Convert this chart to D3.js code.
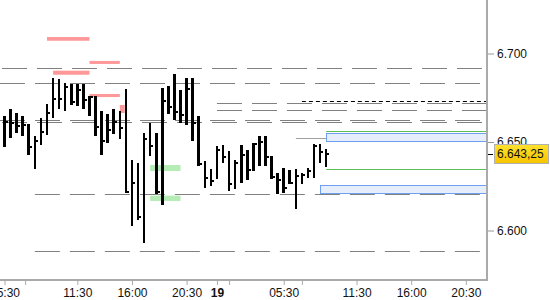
<!DOCTYPE html>
<html>
<head>
<meta charset="utf-8">
<script src="https://cdn.jsdelivr.net/npm/d3@7"></script>
<style>
  body { margin: 0; background: #fff; }
  svg { display: block; font-family: "Liberation Sans", Arial, sans-serif; font-size: 12px; }
</style>
</head>
<body>
<svg width="550" height="300"></svg>
<script>
// 30 min bars, bar 0 = 05:30 on the 18th, bar 35 = 00:00 on the 19th
const high = [6664.7, 6668.6, 6666.4, 6664.7, 6660.2, 6653.4, 6663.6, 6671.5, 6686.2, 6685.6,
  6683.3, 6682.8, 6682.8, 6682.8, 6676.0, 6676.0, 6667.5, 6665.8, 6668.6, 6667.5,
  6679.9, 6639.8, 6638.1, 6655.1, 6660.7, 6655.1, 6680.5, 6681.6, 6688.4, 6679.4,
  6686.2, 6686.2, 6664.7, 6639.3, 6634.9, 6647.7, 6648.3, 6644.9, 6639.8, 6648.3,
  6645.5, 6649.4, 6653.4, 6653.4, 6642.1, 6632.5, 6635.3, 6634.2, 6634.7, 6632.5,
  6635.3, 6648.9, 6648.9, 6646.0];
const low = [6647.0, 6652.4, 6655.3, 6653.6, 6642.8, 6634.9, 6648.3, 6654.1, 6663.7, 6668.8,
  6667.7, 6671.1, 6670.5, 6668.8, 6664.9, 6653.6, 6642.8, 6649.6, 6654.5, 6651.9,
  6621.0, 6602.7, 6606.1, 6593.1, 6642.3, 6620.8, 6614.6, 6666.0, 6662.6, 6660.9,
  6659.8, 6650.7, 6636.6, 6624.2, 6625.3, 6629.3, 6638.3, 6622.5, 6623.6, 6627.0,
  6628.7, 6633.8, 6636.6, 6636.6, 6629.3, 6620.8, 6621.4, 6626.4, 6612.3, 6626.4,
  6629.8, 6629.8, 6638.3, 6636.0];
const close = [6661.3, 6660.7, 6659.0, 6659.6, 6647.3, 6650.6, 6655.6, 6666.4, 6674.3, 6674.3,
  6681.2, 6672.8, 6679.4, 6673.7, 6675.4, 6658.6, 6650.7, 6656.8, 6661.3, 6657.7,
  6621.9, 6626.8, 6607.8, 6651.9, 6647.9, 6621.9, 6673.2, 6669.8, 6667.1, 6665.4,
  6680.1, 6660.6, 6637.6, 6629.7, 6628.1, 6645.5, 6641.7, 6626.4, 6638.0, 6642.7,
  6634.2, 6648.7, 6650.2, 6641.7, 6630.4, 6628.5, 6624.2, 6627.0, 6630.8, 6631.5,
  6633.6, 6647.7, 6644.5, 6643.25];

const lastPrice = 6643.25;

const yTicks = [6600, 6650, 6700];
const xTickBars = [0, 3.4, 12, 21, 30, 35, 37, 46, 49, 58, 67, 76];
const xTickLabels = ["05:30", "", "11:30", "16:00", "20:30", "19", "", "05:30", "", "11:30", "16:00", "20:30"];

// grey dashed levels and the bar they start at
const dashLevels = [6691.6, 6683.2, 6662.2, 6661.5, 6620.6, 6588.2, 6671.9, 6668.1];
const dashFrom = [-1, -1, -1, -1, 5, 5, 35, 35];

const blackDashLevel = 6673.2;   // from bar 49
const greyLevel = 6652.1;        // bar 48 to 53
const greenLevels = [6656.0, 6634.6];   // from bar 53

// zones: [from bar, to bar, top, bottom]
const redZones = [[7, 14, 6709.3, 6707.2], [14, 19, 6695.8, 6694.1], [8, 14, 6690.3, 6688.0],
  [14, 19, 6677.1, 6675.4], [19, 19.8, 6670.9, 6666.4]];
const greenZones = [[24, 29, 6637.0, 6633.6], [24, 29, 6619.7, 6616.7]];
const blueZones = [[53, 80, 6655.1, 6650.8], [52, 80, 6625.7, 6621.0]];

const svg = d3.select("svg");
const right = 487, bottom = 280;

const x = d3.scaleLinear().domain([0, 76]).range([4.5, 465.8]);
const y = d3.scaleLinear().domain([6600, 6700]).range([230.5, 53.5]);

const de = d3.formatLocale({ decimal: ",", thousands: ".", grouping: [3], currency: ["", "€"] });
const fmt0 = de.format(",.0f");
const fmt2 = de.format(",.2f");

svg.append("defs").append("clipPath").attr("id", "plot")
  .append("rect").attr("x", 0).attr("y", 0).attr("width", right).attr("height", bottom);

const lg = svg.select("defs").append("linearGradient").attr("id", "gold")
  .attr("x1", 0).attr("y1", 0).attr("x2", 0).attr("y2", 1);
lg.append("stop").attr("offset", "0%").attr("stop-color", "#ffe22e");
lg.append("stop").attr("offset", "100%").attr("stop-color", "#f7c400");

const plot = svg.append("g").attr("clip-path", "url(#plot)");

// zones
function zones(data, fill, stroke) {
  plot.append("g").selectAll("rect").data(data).join("rect")
    .attr("x", d => x(d[0]))
    .attr("width", d => x(Math.min(d[1], 80)) - x(d[0]))
    .attr("y", d => y(d[2]))
    .attr("height", d => y(d[3]) - y(d[2]))
    .attr("fill", fill)
    .attr("stroke", stroke || "none");
}
zones(redZones, "#ff9898");
zones(greenZones, "#b5ebb5");

// dashed levels
plot.append("g").selectAll("line").data(dashLevels).join("line")
  .attr("x1", (d, i) => dashFrom[i] < 0 ? 0 : x(dashFrom[i]))
  .attr("x2", right)
  .attr("y1", d => Math.round(y(d)) + 0.5)
  .attr("y2", d => Math.round(y(d)) + 0.5)
  .attr("stroke", "#808080")
  .attr("stroke-width", 1)
  .attr("stroke-dasharray", "25,10")
  .attr("stroke-dashoffset", (d, i) => (i == 0 || i == 3) ? 33 : 0);

plot.append("line")
  .attr("x1", x(49)).attr("x2", right)
  .attr("y1", Math.round(y(blackDashLevel)) + 0.5).attr("y2", Math.round(y(blackDashLevel)) + 0.5)
  .attr("stroke", "#000").attr("stroke-dasharray", "4,3");

plot.append("line")
  .attr("x1", x(48)).attr("x2", x(53))
  .attr("y1", Math.round(y(greyLevel)) + 0.5).attr("y2", Math.round(y(greyLevel)) + 0.5)
  .attr("stroke", "#a0a0a0");

plot.append("g").selectAll("line").data(greenLevels).join("line")
  .attr("x1", x(53)).attr("x2", right)
  .attr("y1", d => Math.round(y(d)) + 0.5).attr("y2", d => Math.round(y(d)) + 0.5)
  .attr("stroke", "#5cbf5c");

plot.append("g").selectAll("rect").data(blueZones).join("rect")
  .attr("x", d => Math.round(x(d[0])) + 0.5)
  .attr("width", d => right - x(d[0]))
  .attr("y", d => Math.round(y(d[2])) + 0.5)
  .attr("height", d => Math.round(y(d[3]) - y(d[2])))
  .attr("fill", "#e6eefb")
  .attr("stroke", "#6f9ff0");

// hlc bars
const bars = plot.append("g").attr("shape-rendering", "crispEdges");
bars.selectAll("rect.bar").data(high).join("rect")
  .attr("class", "bar")
  .attr("x", (d, i) => x(i) - 1.3)
  .attr("width", 2.6)
  .attr("y", d => y(d))
  .attr("height", (d, i) => y(low[i]) - y(d))
  .attr("fill", "#000");
bars.selectAll("rect.cl").data(close).join("rect")
  .attr("class", "cl")
  .attr("x", (d, i) => x(i) + 1.3)
  .attr("width", 2)
  .attr("y", d => y(d) - 1)
  .attr("height", 2)
  .attr("fill", "#000");

// axes
const yAxis = d3.axisRight(y).tickValues(yTicks).tickSize(6).tickPadding(3).tickFormat(fmt0);
const gy = svg.append("g").attr("transform", `translate(${right + 1},0)`).call(yAxis);
gy.select(".domain").remove();
gy.selectAll(".tick line").attr("stroke", "#999");
gy.selectAll("text").attr("fill", "#111").style("font-size", "12px").style("font-family", "'Liberation Sans', Arial, sans-serif");

const xAxis = d3.axisBottom(x).tickValues(xTickBars).tickSize(4).tickPadding(3)
  .tickFormat((d, i) => xTickLabels[i]);
const gx = svg.append("g").attr("transform", `translate(0,${bottom + 1})`).call(xAxis);
gx.select(".domain").remove();
gx.selectAll(".tick line").attr("stroke", "#aaa");
gx.selectAll("text").attr("fill", "#111").style("font-size", "12px")
  .style("font-family", "'Liberation Sans', Arial, sans-serif")
  .style("font-weight", (d, i) => xTickLabels[i] == "19" ? "bold" : "normal");

svg.append("line").attr("x1", 0).attr("x2", right + 1).attr("y1", bottom).attr("y2", bottom)
  .attr("stroke", "#aaa").attr("stroke-width", 2);
svg.append("line").attr("x1", right).attr("x2", right).attr("y1", 0).attr("y2", bottom + 1)
  .attr("stroke", "#aaa").attr("stroke-width", 2);

// last price label
const ly = y(lastPrice);
svg.append("line").attr("x1", right + 1).attr("x2", right + 6)
  .attr("y1", Math.round(ly) + 0.5).attr("y2", Math.round(ly) + 0.5).attr("stroke", "#000");
svg.append("rect").attr("x", 494.5).attr("y", Math.round(ly) - 9.5).attr("width", 54).attr("height", 19)
  .attr("fill", "url(#gold)").attr("stroke", "#b0b0b0");
svg.append("text").attr("x", 497).attr("y", ly).attr("dy", "0.35em")
  .attr("fill", "#111").style("font-size", "12px").text(fmt2(lastPrice));
</script>
</body>
</html>
